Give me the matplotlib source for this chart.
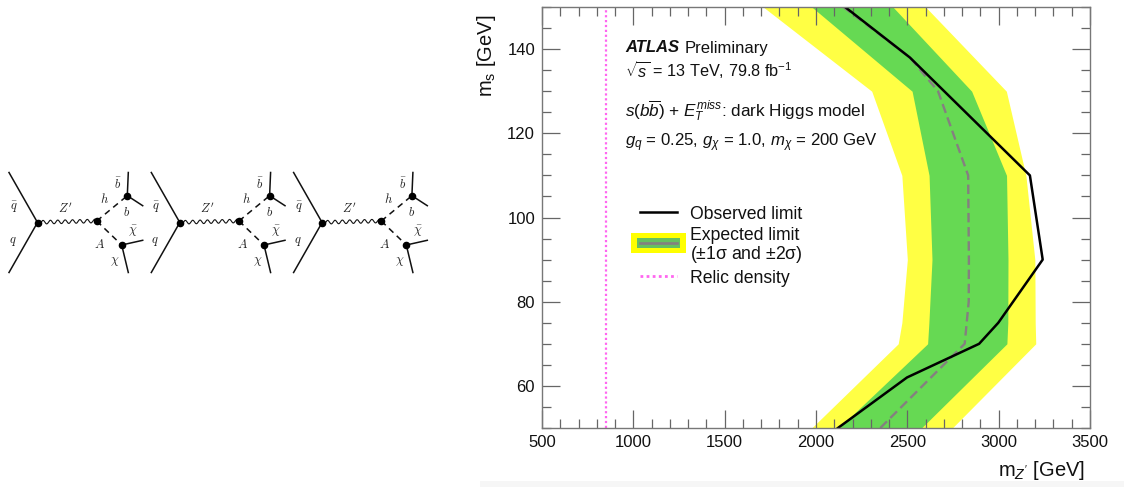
import numpy as np
import matplotlib
matplotlib.use("Agg")
import matplotlib.pyplot as plt
from matplotlib.patches import Rectangle
from matplotlib.lines import Line2D
from matplotlib.ticker import MultipleLocator

plt.rcParams.update({
    "font.family": "Liberation Sans",
    "mathtext.fontset": "custom",
    "mathtext.rm": "Liberation Sans",
    "mathtext.it": "Liberation Sans:italic",
    "mathtext.bf": "Liberation Sans:bold",
})

# ---- data (m_s in GeV, m_Z' in GeV) ----
ms_band = [50, 70, 75, 90, 110, 130, 150]
yellow_low = [1976, 2450, 2470, 2500, 2470, 2305, 1711]
yellow_high = [2746, 3203, 3200, 3198, 3149, 3042, 2600]
green_low = [2125, 2611, 2618, 2635, 2619, 2526, 1977]
green_high = [2577, 3045, 3050, 3051, 3043, 2852, 2421]
ms_exp = [50, 70, 80, 90, 110, 130, 138, 150]
mz_exp = [2352, 2814, 2836, 2837, 2833, 2668, 2514, 2150]
ms_obs = [50, 62, 70, 75, 90, 110, 138, 150]
mz_obs = [2120, 2498, 2893, 2998, 3241, 3171, 2514, 2159]
relic_mz = [850, 850]
relic_ms = [50, 150]

W, H = 1124, 487
fig = plt.figure(figsize=(W / 100, H / 100), dpi=100, facecolor="white")

# ---- overlay in reference pixel coordinates: Feynman diagrams, page strip ----
bg = fig.add_axes([0, 0, 1, 1], zorder=0)
bg.set_xlim(0, W)
bg.set_ylim(H, 0)
bg.axis("off")
bg.add_patch(Rectangle((480, 480.5), W - 480, 7, fc="#f6f6f6", ec="none"))

diagram_offsets = [0, 142.3, 284.6]
INK = "#111111"
for dx in diagram_offsets:
    bg.plot([9 + dx, 37.5 + dx, 9 + dx], [172.5, 222.5, 272.5], color=INK, lw=1.1)
    t = np.linspace(0, 1, 240)
    xw = 37.5 + dx + t * 59
    yw = 222.3 - t * 1.3 + 1.8 * np.sin(2 * np.pi * 8 * t)
    bg.plot(xw, yw, color=INK, lw=0.8)
    bg.plot([96.7 + dx, 127.3 + dx], [221, 195.7], color=INK, lw=1.1, ls=(0, (4, 3)))
    bg.plot([96.7 + dx, 121.7 + dx], [221, 245], color=INK, lw=1.1, ls=(0, (4, 3)))
    bg.plot([128.3 + dx, 127.3 + dx, 142.7 + dx], [172.5, 195.7, 205.7], color=INK, lw=1.1)
    bg.plot([142.7 + dx, 121.7 + dx, 128.3 + dx], [240.3, 245, 272.5], color=INK, lw=1.1)
    bg.scatter([37.5 + dx, 96.7 + dx, 127.3 + dx, 121.7 + dx],
               [222.5, 221, 195.7, 245], s=20, color="black", zorder=3)
    labels = [(14, 206, r"$\bar{q}$"), (13, 241, r"$q$"), (65, 209, r"$Z'$"),
              (104, 199, r"$h$"), (118, 183, r"$\bar{b}$"), (127, 212, r"$b$"),
              (133, 231, r"$\bar{\chi}$"), (100, 244, r"$A$"), (115, 262, r"$\chi$")]
    for lx, ly, s in labels:
        bg.text(lx + dx, ly, s, fontsize=9, ha="center", va="center", color="#222222",
                math_fontfamily="cm")

# ---- limit plot ----
ax = fig.add_axes([542 / W, (H - 428) / H, 548 / W, 421 / H], zorder=1)
ax.fill_betweenx(ms_band, yellow_low, yellow_high, color="#ffff44", lw=0)
ax.fill_betweenx(ms_band, green_low, green_high, color="#66d953", lw=0)
ax.plot(mz_exp, ms_exp, color="#857f80", lw=1.7, ls=(0, (4, 2)))
ax.plot(mz_obs, ms_obs, color="black", lw=1.8)
ax.plot(relic_mz, relic_ms, color="#ff66f0", lw=1.6, ls=(0, (1, 1.2)))
ax.set_xlim(500, 3500)
ax.set_ylim(50, 150)

ax.xaxis.set_major_locator(MultipleLocator(500))
ax.xaxis.set_minor_locator(MultipleLocator(100))
ax.yaxis.set_major_locator(MultipleLocator(20))
ax.yaxis.set_minor_locator(MultipleLocator(5))
ax.tick_params(which="both", direction="in", top=True, right=True, color="#666666", width=0.9)
ax.tick_params(which="major", length=13, labelsize=12, pad=5, colors="#666666", labelcolor="#111111")
ax.tick_params(which="minor", length=6.5)
for s in ax.spines.values():
    s.set_color("#777777")
    s.set_linewidth(1.0)

fig.text(1085 / W, 1 - 471 / H, r"m$_{Z'}$ [GeV]", fontsize=14.5, ha="right", va="center", color="#111111")
fig.text(487 / W, 1 - 56 / H, r"m$_{\mathrm{s}}$ [GeV]", fontsize=14.5, rotation=90,
         ha="center", va="center", color="#111111")


def put(x, y, s, **kw):
    kw.setdefault("fontsize", 12)
    kw.setdefault("color", "#111111")
    return fig.text(x / W, 1 - y / H, s, ha="left", va="center", **kw)


put(625, 48, "ATLAS", fontweight="bold", fontstyle="italic", fontsize=12)
put(685, 48, "Preliminary", fontsize=12)
put(625, 70, r"$\sqrt{s}$ = 13 TeV, 79.8 fb$^{-1}$", fontsize=11.7)
put(625, 111, r"$s(b\overline{b})$ + $E_T^{miss}$: dark Higgs model", fontsize=12.3)
put(625, 143, r"$g_q$ = 0.25, $g_\chi$ = 1.0, $m_\chi$ = 200 GeV", fontsize=12.1)


# ---- legend ----
class BandHandle:
    pass


class BandHandler:
    def legend_artist(self, legend, orig, fontsize, box):
        x0, y0 = box.xdescent, box.ydescent
        w, h = box.width, box.height
        tr = box.get_transform()
        pad = 6.5
        a = Rectangle((x0 - pad, y0 - 1.5), w + 2 * pad, h + 3, fc="#ffff00", ec="none", transform=tr)
        b = Rectangle((x0 - 2, y0 + 2), w + 4, h - 4, fc="#66c060", ec="none", transform=tr)
        c = Line2D([x0, x0 + w], [y0 + h / 2] * 2, color="#857f80", lw=1.9, transform=tr)
        for art in (a, b, c):
            box.add_artist(art)
        return a


handles = [Line2D([], [], color="black", lw=1.8), BandHandle(),
           Line2D([], [], color="#ff66f0", lw=2, ls=(0, (1, 1.2)))]
labels = ["Observed limit", "Expected limit\n" + r"($\pm$1$\mathrm{\sigma}$ and $\pm$2$\mathrm{\sigma}$)", "Relic density"]
leg = ax.legend(handles, labels, handler_map={BandHandle: BandHandler()},
                loc="upper left", bbox_to_anchor=(640 / W, 1 - 205.5 / H),
                bbox_transform=fig.transFigure, frameon=False, fontsize=12.7,
                borderaxespad=0, borderpad=0, handlelength=2.1, handleheight=1.0,
                handletextpad=0.72, labelspacing=0.22, labelcolor="#111111")
for txt in leg.get_texts():
    txt.set_linespacing(1.0)

fig.savefig("out.png", dpi=100)
